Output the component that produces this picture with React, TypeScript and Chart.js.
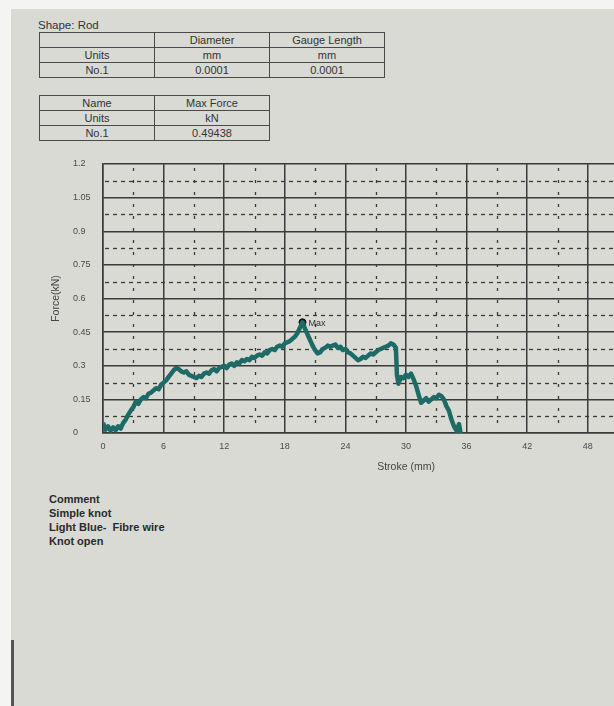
import React, { useEffect, useRef } from "react";
import { Chart, registerables } from "chart.js";
Chart.register(...registerables);

const strokeMm = [
  0, 0.25, 0.5, 0.75, 1, 1.25, 1.5, 1.75, 2, 2.25, 2.5, 2.75, 3, 3.25, 3.5, 3.75,
  4, 4.25, 4.5, 4.75, 5, 5.25, 5.5, 5.75, 6, 6.25, 6.5, 6.75, 7, 7.25, 7.5, 7.75,
  8, 8.25, 8.5, 8.75, 9, 9.25, 9.5, 9.75, 10, 10.25, 10.5, 10.75, 11, 11.25, 11.5, 11.75,
  12, 12.25, 12.5, 12.75, 13, 13.25, 13.5, 13.75, 14, 14.25, 14.5, 14.75, 15, 15.25, 15.5, 15.75,
  16, 16.25, 16.5, 16.75, 17, 17.25, 17.5, 17.75, 18, 18.25, 18.5, 18.75, 19, 19.25, 19.5, 19.75,
  20, 20.25, 20.5, 20.75, 21, 21.25, 21.5, 21.75, 22, 22.25, 22.5, 22.75, 23, 23.25, 23.5, 23.75,
  24, 24.25, 24.5, 24.75, 25, 25.25, 25.5, 25.75, 26, 26.25, 26.5, 26.75, 27, 27.25, 27.5, 27.75,
  28, 28.25, 28.5, 28.75, 29, 29.1, 29.25, 29.5, 29.75, 30, 30.25, 30.5, 30.75, 31, 31.25, 31.5,
  31.75, 32, 32.25, 32.5, 32.75, 33, 33.25, 33.5, 33.75, 34, 34.25, 34.5, 34.75, 35, 35.25, 35.4,
];

const forceKn = [
  0.045, 0.015, 0.03, 0.01, 0.025, 0.012, 0.03, 0.02, 0.045, 0.06, 0.082, 0.1, 0.115, 0.14, 0.13, 0.15,
  0.16, 0.155, 0.175, 0.18, 0.19, 0.2, 0.195, 0.215, 0.225, 0.235, 0.25, 0.265, 0.28, 0.29, 0.285, 0.275,
  0.27, 0.275, 0.26, 0.255, 0.25, 0.245, 0.255, 0.25, 0.265, 0.27, 0.265, 0.28, 0.285, 0.275, 0.29, 0.295,
  0.3, 0.29, 0.305, 0.31, 0.3, 0.315, 0.31, 0.325, 0.32, 0.33, 0.325, 0.34, 0.335, 0.345, 0.35, 0.345,
  0.36, 0.355, 0.37, 0.375, 0.37, 0.385, 0.39, 0.385, 0.4, 0.405, 0.41, 0.42, 0.43, 0.445, 0.47, 0.494,
  0.465, 0.44, 0.415, 0.39, 0.37, 0.355, 0.36, 0.375, 0.38, 0.39, 0.385, 0.39, 0.395, 0.38, 0.385, 0.37,
  0.375, 0.36, 0.355, 0.345, 0.335, 0.325, 0.33, 0.34, 0.335, 0.345, 0.355, 0.35, 0.36, 0.37, 0.375, 0.38,
  0.385, 0.39, 0.4, 0.395, 0.38, 0.26, 0.22, 0.25, 0.245, 0.26, 0.25, 0.265, 0.24, 0.21, 0.17, 0.135,
  0.145, 0.155, 0.14, 0.15, 0.16, 0.155, 0.17, 0.165, 0.15, 0.12, 0.1, 0.06, 0.03, 0.01, 0.04, 0.0,
];

const maxStroke = [19.75];
const maxForce = [0.494];
const maxLabel = "Max";

const xTickLabels = ["0", "6", "12", "18", "24", "30", "36", "42", "48", "54", "60"];
const yTickLabels = ["0", "0.15", "0.3", "0.45", "0.6", "0.75", "0.9", "1.05", "1.2"];

const table1Header = ["", "Diameter", "Gauge Length"];
const table1Units = ["Units", "mm", "mm"];
const table1Row = ["No.1", "0.0001", "0.0001"];
const table2Header = ["Name", "Max Force"];
const table2Units = ["Units", "kN"];
const table2Row = ["No.1", "0.49438"];
const commentLines = ["Comment", "Simple knot", "Light Blue-  Fibre wire", "Knot open"];

const FONT = "'Liberation Sans', Arial, sans-serif";
const GRID = "#3a3a3a";
const PAPER = "#d9dad4";

const minorGrid = {
  id: "minorGrid",
  beforeDatasetsDraw(chart: any) {
    const { ctx, chartArea: a, scales } = chart;
    const x = scales.x;
    const y = scales.y;
    ctx.save();
    ctx.beginPath();
    ctx.rect(a.left, a.top, a.right - a.left, a.bottom - a.top);
    ctx.clip();
    ctx.strokeStyle = GRID;
    ctx.lineWidth = 1.3;
    ctx.setLineDash([3, 9]);
    for (let i = 0; i < x.ticks.length - 1; i++) {
      const v = (x.ticks[i].value + x.ticks[i + 1].value) / 2;
      const px = Math.round(x.getPixelForValue(v)) + 0.5;
      ctx.beginPath();
      ctx.moveTo(px, a.top + 4);
      ctx.lineTo(px, a.bottom);
      ctx.stroke();
    }
    ctx.setLineDash([4, 4]);
    for (let i = 0; i < y.ticks.length - 1; i++) {
      const v = (y.ticks[i].value + y.ticks[i + 1].value) / 2;
      const py = Math.round(y.getPixelForValue(v)) + 0.5;
      ctx.beginPath();
      ctx.moveTo(a.left + 2, py);
      ctx.lineTo(a.right, py);
      ctx.stroke();
    }
    ctx.restore();
  },
};

const maxText = {
  id: "maxText",
  afterDatasetsDraw(chart: any) {
    const meta = chart.getDatasetMeta(1);
    const el = meta.data[0];
    if (!el) return;
    const { ctx } = chart;
    ctx.save();
    ctx.font = `9px ${FONT}`;
    ctx.fillStyle = "#333";
    ctx.textBaseline = "middle";
    ctx.textAlign = "left";
    ctx.fillText(maxLabel, el.x + 6, el.y + 1);
    ctx.restore();
  },
};

function ChartCanvas() {
  const ref = useRef<HTMLCanvasElement>(null);
  useEffect(() => {
    if (!ref.current) return;
    const chart = new Chart(ref.current, {
      type: "line",
      data: {
        datasets: [
          {
            data: strokeMm.map((s, i) => ({ x: s, y: forceKn[i] })),
            borderColor: "#1e6a67",
            borderWidth: 4.5,
            pointRadius: 0,
            tension: 0,
            borderJoinStyle: "round",
            fill: false,
          },
          {
            data: maxStroke.map((s, i) => ({ x: s, y: maxForce[i] })),
            showLine: false,
            pointRadius: 3.5,
            pointBackgroundColor: "#111",
            pointBorderColor: "#111",
          },
        ],
      },
      options: {
        animation: false,
        responsive: false,
        events: [],
        layout: { padding: { left: 40, top: 24, right: 0, bottom: 0 } },
        plugins: { legend: { display: false }, tooltip: { enabled: false } },
        scales: {
          x: {
            type: "linear",
            min: 0,
            max: 60,
            grid: { color: GRID, lineWidth: 1.5, drawTicks: false },
            border: { color: GRID, width: 1.5 },
            ticks: {
              stepSize: 6,
              padding: 8,
              maxRotation: 0,
              color: "#4a4a4a",
              font: { family: FONT, size: 9 },
              callback: (v: any) => xTickLabels[Math.round(Number(v) / 6)] ?? "",
            },
            title: {
              display: true,
              text: "Stroke (mm)",
              color: "#444",
              font: { family: FONT, size: 10.5 },
              padding: { top: 0, bottom: 7 },
            },
            afterFit: (s: any) => {
              s.height = 47;
              s.paddingLeft = 0;
              s.paddingRight = 0;
            },
          },
          y: {
            type: "linear",
            position: "left",
            weight: 0,
            min: 0,
            max: 1.2,
            grid: { color: GRID, lineWidth: 1.5, drawTicks: false },
            border: { color: GRID, width: 1.5 },
            ticks: {
              stepSize: 0.15,
              crossAlign: "far",
              color: "#4a4a4a",
              font: { family: FONT, size: 9 },
              callback: (v: any) => yTickLabels[Math.round(Number(v) / 0.15)] ?? "",
            },
            afterFit: (s: any) => {
              s.width = 30;
              s.paddingTop = 0;
              s.paddingBottom = 0;
            },
          },
          yTitle: {
            type: "linear",
            axis: "y",
            position: "left",
            weight: 1,
            grid: { display: false, drawTicks: false },
            border: { display: false },
            ticks: { display: false },
            title: {
              display: true,
              text: "Force(kN)",
              color: "#444",
              font: { family: FONT, size: 10.5 },
              padding: { top: 10, bottom: 0 },
            },
            afterFit: (s: any) => {
              s.width = 33;
            },
          },
        },
      } as any,
      plugins: [minorGrid, maxText],
    });
    return () => chart.destroy();
  }, []);
  return (
    <canvas
      ref={ref}
      width={714}
      height={340}
      style={{ position: "absolute", left: 0, top: 140, width: 714, height: 340 }}
    />
  );
}

const cell: React.CSSProperties = {
  border: "1.5px solid #4a4a4a",
  padding: 0,
  height: 14,
  textAlign: "center",
  fontSize: 11,
  color: "#333",
  lineHeight: "14px",
  fontFamily: FONT,
  whiteSpace: "nowrap",
  overflow: "hidden",
};

function Table({ rows, widths, left, top }: { rows: string[][]; widths: number[]; left: number; top: number }) {
  return (
    <table
      style={{
        position: "absolute",
        left,
        top,
        borderCollapse: "collapse",
        tableLayout: "fixed",
      }}
    >
      <tbody>
        {rows.map((r, i) => (
          <tr key={i}>
            {r.map((c, j) => (
              <td key={j} style={{ ...cell, width: widths[j] }}>
                {c}
              </td>
            ))}
          </tr>
        ))}
      </tbody>
    </table>
  );
}

export default function App() {
  return (
    <div
      style={{
        position: "absolute",
        left: 0,
        top: 0,
        width: 614,
        height: 706,
        overflow: "hidden",
        background: "#f4f4f2",
        fontFamily: FONT,
      }}
    >
      <div
        style={{
          position: "absolute",
          left: 11,
          top: 9,
          width: 640,
          height: 720,
          background: PAPER,
        }}
      />
      <div
        style={{
          position: "absolute",
          left: 11,
          top: 640,
          width: 3,
          height: 70,
          background: "#555",
        }}
      />
      <div style={{ position: "absolute", left: 38, top: 19, fontSize: 11.5, color: "#333" }}>Shape: Rod</div>
      <Table rows={[table1Header, table1Units, table1Row]} widths={[114, 114, 114]} left={39} top={32} />
      <Table rows={[table2Header, table2Units, table2Row]} widths={[114, 114]} left={39} top={95} />
      <ChartCanvas />
      <div
        style={{
          position: "absolute",
          left: 49,
          top: 492,
          fontSize: 11,
          fontWeight: "bold",
          lineHeight: "14px",
          color: "#2a2a2a",
          whiteSpace: "pre",
        }}
      >
        {commentLines.map((l, i) => (
          <div key={i}>{l}</div>
        ))}
      </div>
    </div>
  );
}
